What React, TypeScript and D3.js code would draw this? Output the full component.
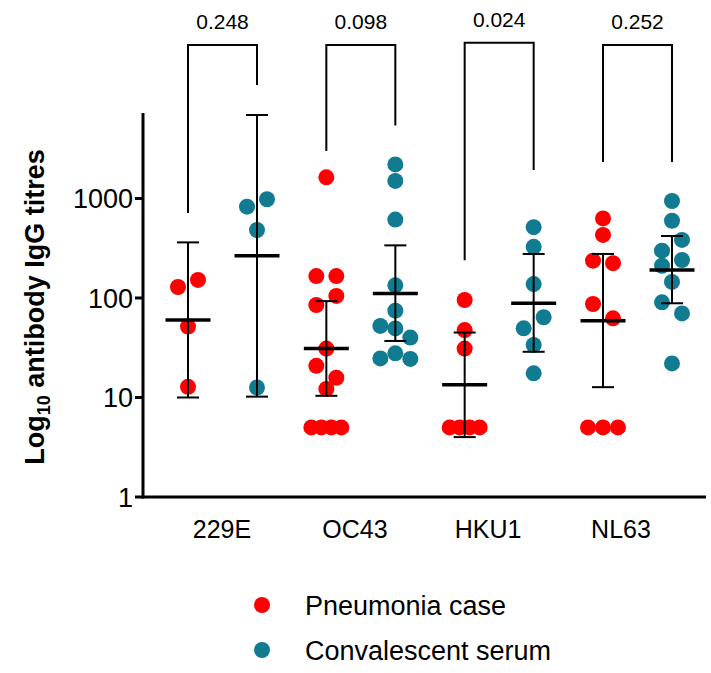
import React from "react";
import * as d3 from "d3";

const categories = ["229E", "OC43", "HKU1", "NL63"];
const seriesNames = ["Pneumonia case", "Convalescent serum"];
const seriesColors = ["#ff0000", "#117c91"];

// individual titres, one list per virus
const pneumonia = [
  [129, 152, 51.6, 12.8],
  [1630, 166, 166, 85, 105, 31, 20.8, 15.8, 12.2, 5, 5, 5, 5],
  [95.5, 47.6, 31, 5, 5, 5, 5],
  [631, 430, 237, 224, 87, 62.5, 5, 5, 5],
];
const convalescent = [
  [827, 983, 482, 12.6],
  [2200, 1500, 614, 134, 74.5, 52.4, 49.5, 40, 24.7, 27.8, 24.4],
  [515, 327, 138, 49.6, 64, 33.7, 17.5],
  [944, 597, 299, 383, 211, 241, 145, 90.5, 70, 22],
];

// geometric means and 95% CI
const pneumoniaMean = [60, 31, 13.4, 59];
const pneumoniaLow = [10, 10.4, 4.0, 12.7];
const pneumoniaHigh = [362, 93, 45, 277];
const convalescentMean = [266, 111, 88.5, 191];
const convalescentLow = [10.2, 37, 28.8, 88.5];
const convalescentHigh = [6900, 338, 277, 420];

// comparison brackets (in titre units)
const pValues = ["0.248", "0.098", "0.024", "0.252"];
const bracketLeftEnd = [715, 3000, 240, 2330];
const bracketRightEnd = [13800, 5400, 1930, 2330];
const bracketTop = [34900, 34900, 36800, 34900];

const yTicks = [1, 10, 100, 1000];

const W = 711;
const H = 673;
const font = "'Liberation Sans', Arial, sans-serif";

const y = d3.scaleLog().domain([1, 7230]).range([497, 113]);
const xGroup = d3.scalePoint<string>().domain(categories).range([222.5, 637.5]);
const xSeries = d3.scalePoint<string>().domain(seriesNames).range([-34.5, 34.5]);
const xLabel = d3.scalePoint<string>().domain(categories).range([222, 621]);

const R = 8;

// spread points that share a row, like a column scatter
function scatter(values: number[]) {
  const idx = values.map((v, i) => i).sort((a, b) => y(values[a]) - y(values[b]) || a - b);
  const bins: number[][] = [];
  let start = -Infinity;
  idx.forEach((i) => {
    const py = y(values[i]);
    if (py - start > 15) {
      bins.push([i]);
      start = py;
    } else bins[bins.length - 1].push(i);
  });
  const dx = new Array(values.length).fill(0);
  bins.forEach((b) => {
    b.sort((a, c) => a - c);
    const n = b.length;
    const s = n > 1 ? Math.min(20, 30 / (n - 1)) : 0;
    b.forEach((i, k) => (dx[i] = k * s - ((n - 1) * s) / 2));
  });
  return dx;
}

const groups = [
  { name: seriesNames[0], color: seriesColors[0], values: pneumonia, mean: pneumoniaMean, low: pneumoniaLow, high: pneumoniaHigh },
  { name: seriesNames[1], color: seriesColors[1], values: convalescent, mean: convalescentMean, low: convalescentLow, high: convalescentHigh },
];

export default function App() {
  return (
    <svg width={W} height={H} style={{ position: "absolute", left: 0, top: 0, background: "#fff" }} fontFamily={font}>
      {/* brackets */}
      {categories.map((c, i) => {
        const x1 = xGroup(c)! + xSeries(seriesNames[0])!;
        const x2 = xGroup(c)! + xSeries(seriesNames[1])!;
        const top = y(bracketTop[i]);
        return (
          <g key={"br" + c}>
            <path
              d={`M${x1},${y(bracketLeftEnd[i])}V${top}H${x2}V${y(bracketRightEnd[i])}`}
              fill="none"
              stroke="#000"
              strokeWidth={2}
            />
            <text x={(x1 + x2) / 2} y={top - 16} textAnchor="middle" fontSize={21}>
              {pValues[i]}
            </text>
          </g>
        );
      })}

      {/* points */}
      {groups.map((g) =>
        categories.map((c, i) => {
          const cx = xGroup(c)! + xSeries(g.name)!;
          const dx = scatter(g.values[i]);
          return (
            <g key={g.name + c}>
              {g.values[i].map((v, j) => (
                <circle key={j} cx={cx + dx[j]} cy={y(v)} r={R} fill={g.color} />
              ))}
            </g>
          );
        })
      )}

      {/* mean and CI */}
      {groups.map((g) =>
        categories.map((c, i) => {
          const cx = xGroup(c)! + xSeries(g.name)!;
          return (
            <g key={"m" + g.name + c} stroke="#000">
              <line x1={cx} x2={cx} y1={y(g.low[i])} y2={y(g.high[i])} strokeWidth={2} />
              <line x1={cx - 11} x2={cx + 11} y1={y(g.low[i])} y2={y(g.low[i])} strokeWidth={2} />
              <line x1={cx - 11} x2={cx + 11} y1={y(g.high[i])} y2={y(g.high[i])} strokeWidth={2} />
              <line x1={cx - 22.5} x2={cx + 22.5} y1={y(g.mean[i])} y2={y(g.mean[i])} strokeWidth={3.5} />
            </g>
          );
        })
      )}

      {/* y axis */}
      <line x1={143} x2={143} y1={y.range()[1]} y2={y.range()[0] + 1.5} stroke="#000" strokeWidth={3} />
      {yTicks.map((t) => (
        <g key={t} transform={`translate(0,${y(t)})`}>
          <line x1={135} x2={143} stroke="#000" strokeWidth={3} />
          <text x={133} dy="0.36em" textAnchor="end" fontSize={27}>
            {d3.format("d")(t)}
          </text>
        </g>
      ))}
      <text transform="translate(44,307) rotate(-90)" textAnchor="middle" fontSize={27} fontWeight="bold">
        Log
        <tspan fontSize={18} dy={6}>10</tspan>
        <tspan dy={-6}> antibody IgG titres</tspan>
      </text>

      {/* x axis */}
      <line x1={141.5} x2={706} y1={y(1)} y2={y(1)} stroke="#000" strokeWidth={3} />
      {categories.map((c) => (
        <text key={c} x={xLabel(c)} y={538} textAnchor="middle" fontSize={25}>
          {c}
        </text>
      ))}

      {/* legend */}
      {seriesNames.map((s, i) => (
        <g key={s} transform={`translate(262,${605 + i * 45})`}>
          <circle r={R} fill={seriesColors[i]} />
          <text x={43} dy="0.36em" fontSize={27}>
            {s}
          </text>
        </g>
      ))}
    </svg>
  );
}
